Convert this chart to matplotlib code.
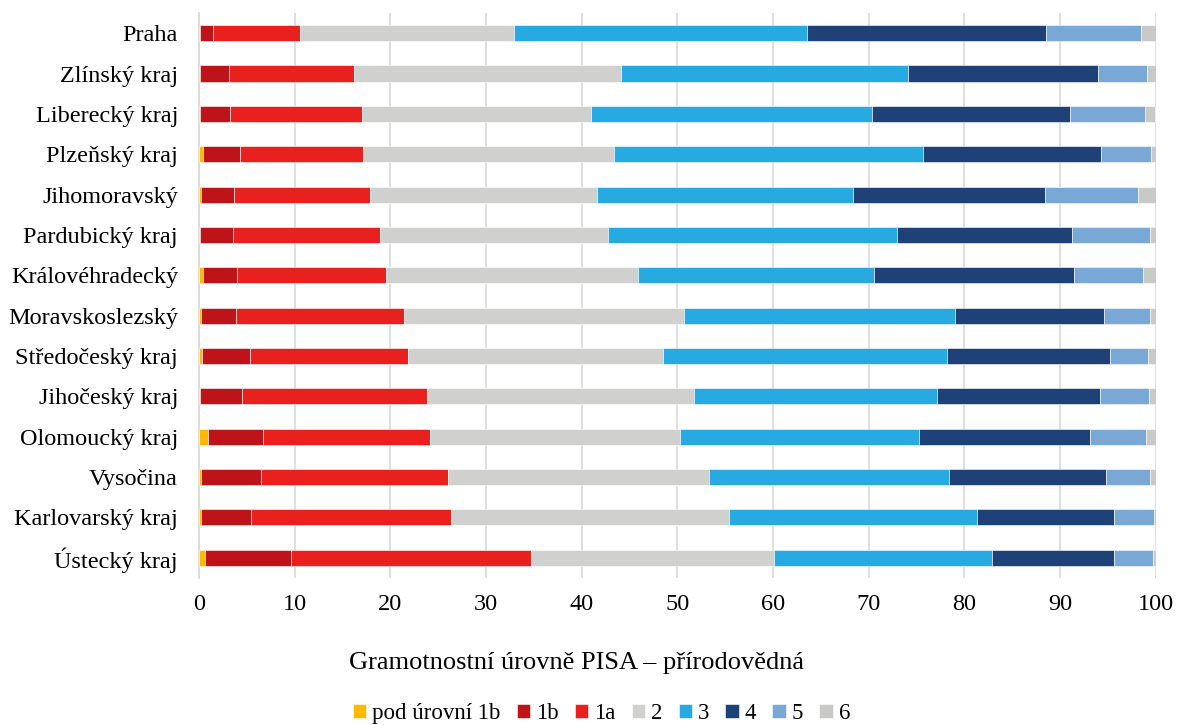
import matplotlib
matplotlib.use("Agg")
import matplotlib.pyplot as plt
import numpy as np

plt.rcParams['font.family'] = ['Liberation Serif', 'DejaVu Serif']

# regions, top to bottom as drawn
regions = ['Praha', 'Zlínský kraj', 'Liberecký kraj', 'Plzeňský kraj',
           'Jihomoravský', 'Pardubický kraj', 'Královéhradecký',
           'Moravskoslezský', 'Středočeský kraj', 'Jihočeský kraj',
           'Olomoucký kraj', 'Vysočina', 'Karlovarský kraj', 'Ústecký kraj']

levels = ['pod úrovní 1b', '1b', '1a', '2', '3', '4', '5', '6']
colors = ['#FFB900', '#BE1318', '#E8201E', '#D0D0CF',
          '#27AAE1', '#1E4177', '#79A8D7', '#C9C9C8']

# share of pupils (%) per level, one list per level, same order as regions
pod_1b = [0.1, 0.1, 0.1, 0.4, 0.2, 0.1, 0.4, 0.2, 0.3, 0.1, 0.9, 0.2, 0.2, 0.6]
lvl_1b = [1.4, 3.0, 3.1, 3.9, 3.5, 3.5, 3.6, 3.7, 5.0, 4.4, 5.8, 6.3, 5.2, 9.0]
lvl_1a = [9.1, 13.1, 13.8, 12.9, 14.2, 15.3, 15.6, 17.5, 16.5, 19.3, 17.4, 19.5, 20.9, 25.1]
lvl_2 = [22.3, 27.9, 24.0, 26.2, 23.7, 23.9, 26.3, 29.3, 26.7, 27.9, 26.2, 27.3, 29.1, 25.4]
lvl_3 = [30.6, 30.0, 29.3, 32.3, 26.8, 30.2, 24.6, 28.3, 29.7, 25.4, 25.0, 25.1, 25.9, 22.8]
lvl_4 = [25.0, 19.9, 20.7, 18.6, 20.0, 18.2, 21.0, 15.6, 17.0, 17.1, 17.8, 16.4, 14.3, 12.7]
lvl_5 = [10.0, 5.1, 7.9, 5.2, 9.7, 8.2, 7.2, 4.8, 4.0, 5.1, 5.9, 4.6, 4.2, 4.1]
lvl_6 = [1.5, 0.9, 1.0, 0.5, 1.9, 0.6, 1.3, 0.6, 0.8, 0.7, 1.0, 0.6, 0.2, 0.3]

series = [pod_1b, lvl_1b, lvl_1a, lvl_2, lvl_3, lvl_4, lvl_5, lvl_6]

fig = plt.figure(figsize=(11.77, 7.25), dpi=100)
ax = fig.add_axes([0.169, 0.203, 0.813, 0.779])

y = np.arange(len(regions))
left = np.zeros(len(regions))
for vals, lab, col in zip(series, levels, colors):
    vals = np.array(vals)
    ax.barh(y, vals, left=left, height=0.4, color=col, label=lab,
            edgecolor='white', linewidth=0.4, zorder=3)
    left += vals

ax.set_ylim(len(regions) - 0.5, -0.5)
ax.set_xlim(0, 100)
ax.set_xticks(np.arange(0, 101, 10))
ax.set_yticks(y)
ax.set_yticklabels(regions)
ax.tick_params(axis='both', length=0, labelsize=17.5)
ax.tick_params(axis='y', pad=15)
ax.tick_params(axis='x', pad=12)
ax.grid(axis='x', color='#D9D9D9', linewidth=1.2, zorder=0)
for s in ['top', 'right', 'bottom']:
    ax.spines[s].set_visible(False)
ax.spines['left'].set_color('#D9D9D9')
ax.spines['left'].set_linewidth(1.2)

# axis title sits centred under the whole figure, not the plot area
ax.set_xlabel('Gramotnostní úrovně PISA – přírodovědná', fontsize=19)
ax.xaxis.set_label_coords(0.395, -0.131)

fig.legend(loc='center', bbox_to_anchor=(0.511, 0.016), ncol=8, frameon=False,
           fontsize=16.5, handlelength=0.6, handleheight=0.6,
           handletextpad=0.25, columnspacing=0.7, borderaxespad=0)

fig.savefig('out.png', dpi=100)
